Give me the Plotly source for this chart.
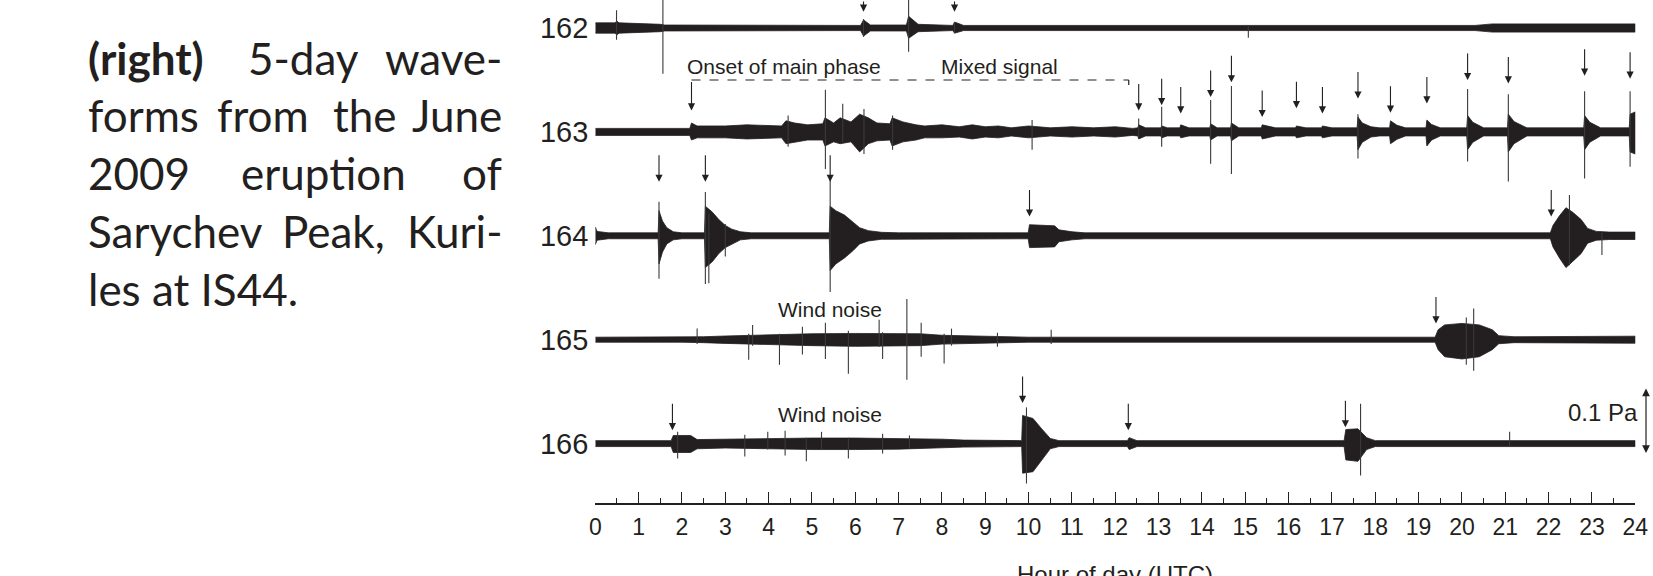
import plotly.graph_objects as go

# ---------------- data (amplitudes in mPa, time in hour of day UTC) ----------------
days = ["162", "163", "164", "165", "166"]
hour_ticks = list(range(0, 25))

env162_t = [0, 0.45, 0.5, 0.55, 1.5, 1.6, 6.12, 6.19, 6.35, 7.18, 7.23, 7.45, 8.25, 8.29, 8.5, 20.3, 20.7, 24]
env162_up = [7.8, 7.8, 10.1, 7.8, 5.6, 4.5, 3.9, 12.3, 4.5, 4.5, 17.9, 5.6, 3.9, 9, 3.9, 3.9, 6.2, 6.2]
env162_dn = [7.8, 7.8, 10.1, 7.8, 5.6, 4.5, 3.9, 12.3, 4.5, 4.5, 15.7, 5.6, 3.9, 7.8, 3.9, 3.9, 6.2, 6.2]

env163_t = [0, 2.18, 2.22, 2.35, 3.0, 3.5, 4.3, 4.4, 4.6, 4.9, 5.25, 5.3, 5.5, 5.65, 5.9, 6.1, 6.3, 6.5, 6.8, 6.85,
            7.1, 7.4, 7.6, 8.0, 8.4, 8.7, 9.0, 9.3, 9.6, 10.0, 10.5, 11.0, 11.5, 12.0, 12.4,
            12.52, 12.54, 12.7, 13.05, 13.07, 13.2, 13.49, 13.51, 13.7, 14.18, 14.2, 14.35, 14.66, 14.68, 14.85,
            15.37, 15.39, 15.7, 16.16, 16.18, 16.4, 16.76, 16.78, 17.0, 17.58, 17.6, 17.7, 17.9, 18.1,
            18.33, 18.35, 18.5, 18.7, 19.17, 19.19, 19.3, 19.5,
            20.11, 20.13, 20.25, 20.5, 21.05, 21.07, 21.2, 21.5, 22.81, 22.83, 22.95, 23.2, 23.86, 23.88, 24]
env163_up = [5.3, 5.3, 13.5, 9, 9, 10.7, 9, 16.8, 13.5, 10.7, 12.3, 21.3, 13.5, 21.3, 15.1, 26.9, 21.3, 13.5, 12.3, 21.3,
             15.1, 10.7, 9, 10.7, 7.8, 10.7, 7.8, 9, 6.2, 9, 6.2, 7.8, 6.2, 7.8, 5.3,
             6.1, 10.7, 6.1, 6.1, 9, 6.1, 6.1, 10.7, 6.1, 6.1, 12.3, 6.1, 6.1, 13.5, 6.1,
             6.1, 10.7, 6.1, 6.1, 9, 6.1, 6.1, 9, 6.1, 6.1, 22.4, 13.5, 7.8, 6.1,
             6.1, 16.8, 10.1, 6.1, 6.1, 17.9, 11.2, 6.1,
             6.1, 24.7, 14.6, 6.1, 6.1, 26.9, 15.7, 6.1, 6.1, 24.7, 14.6, 6.1, 6.1, 26.9, 30.3]
env163_dn = [5.3, 5.3, 12.3, 9, 9, 10.7, 9, 17.9, 15.1, 12.3, 12.3, 21.3, 15.1, 17.9, 15.1, 30.3, 17.9, 13.5, 12.3, 21.3,
             15.1, 12.3, 9, 9, 7.8, 10.7, 7.8, 9, 6.2, 9, 6.2, 7.8, 6.2, 7.8, 5.3,
             6.1, 10.7, 6.1, 6.1, 9, 6.1, 6.1, 9, 6.1, 6.1, 12.3, 6.1, 6.1, 13.5, 6.1,
             6.1, 10.7, 6.1, 6.1, 9, 6.1, 6.1, 9, 6.1, 6.1, 26.9, 15.7, 7.8, 6.1,
             6.1, 17.9, 11.2, 6.1, 6.1, 21.3, 12.3, 6.1,
             6.1, 26.9, 15.7, 6.1, 6.1, 30.3, 17.9, 6.1, 6.1, 26.9, 15.7, 6.1, 6.1, 30.3, 33.6]

env164_t = [0, 0.04, 0.3, 1.45, 1.47, 1.55, 1.65, 1.8, 2.0, 2.52, 2.54, 2.7, 2.85, 3.0, 3.15, 3.35, 3.6,
            5.40, 5.42, 5.55, 5.75, 5.95, 6.1, 6.3, 6.6, 7.0, 9.99, 10.02, 10.6, 10.7, 11.0, 11.3,
            22.04, 22.1, 22.25, 22.4, 22.55, 22.75, 22.9, 23.1, 23.4, 24]
env164_up = [13.5, 6.7, 4.5, 4.5, 38.1, 22.4, 12.3, 6.1, 4.5, 4.5, 44.8, 35.9, 24.7, 15.7, 10.1, 6.1, 4.5,
             4.5, 44.8, 38.1, 31.4, 21.3, 12.3, 7.8, 5.3, 4.5, 4.5, 16.8, 15.1, 9, 6.1, 4.5,
             4.5, 15.7, 30.3, 42.6, 35.9, 24.7, 11.2, 6.7, 5.6, 5.6]
env164_dn = [13.5, 6.7, 4.5, 4.5, 42.6, 24.7, 12.3, 6.1, 4.5, 4.5, 48.2, 39.2, 26.9, 17.9, 12.3, 6.1, 4.5,
             4.5, 52.7, 42.6, 33.6, 22.4, 12.3, 7.8, 5.3, 4.5, 4.5, 17.9, 16.8, 9, 6.1, 4.5,
             4.5, 16.8, 33.6, 48.2, 39.2, 26.9, 11.2, 6.7, 5.6, 5.6]

env165_t = [0, 2.0, 2.5, 3.0, 4.0, 5.0, 6.0, 7.0, 7.5, 8.0, 8.8, 9.4, 10.0,
            19.38, 19.45, 19.6, 20.0, 20.4, 20.7, 20.85, 21.2, 24]
env165_up = [3.8, 3.8, 4.5, 5.6, 7.8, 9, 9.5, 9.5, 9, 6.7, 5.6, 4.5, 3.8, 3.8, 15.1, 22.4, 24.7, 22.4, 15.1, 6.1, 4.5, 5.3]
env165_dn = [3.8, 3.8, 4.5, 5.6, 7.8, 9, 10.1, 9.5, 9, 6.7, 5.6, 4.5, 3.8, 3.8, 15.1, 25.8, 29.2, 25.8, 15.1, 6.1, 4.5, 5.3]

env166_t = [0, 1.75, 1.8, 2.2, 2.35, 3.0, 4.0, 5.0, 6.0, 7.0, 8.0, 8.5, 9.84, 9.86, 10.1, 10.3, 10.5, 10.7,
            12.28, 12.32, 12.5, 17.28, 17.32, 17.6, 17.8, 18.0, 24]
env166_up = [4.5, 4.5, 12.3, 12.3, 6.1, 6.7, 7.8, 8.4, 8.4, 7.8, 6.7, 5.3, 4.5, 42.6, 38.1, 22.4, 7.8, 4.5,
             4.5, 9, 4.5, 4.5, 21.3, 22.4, 9, 4.5, 4.5]
env166_dn = [4.5, 4.5, 13.5, 13.5, 7.8, 6.7, 7.8, 9, 9, 8.4, 6.7, 5.3, 4.5, 44.8, 42.6, 24.7, 7.8, 4.5,
             4.5, 9, 4.5, 4.5, 24.7, 26.9, 9, 4.5, 4.5]

# isolated spikes (hour, peak above baseline, trough below baseline), mPa
spk162_t = [0.49, 1.56, 6.19, 7.23, 8.29, 15.07]
spk162_up = [26.9, 56.1, 13.5, 50.5, 9, 4.5]
spk162_dn = [17.9, 69.5, 13.5, 35.9, 7.8, 14.6]

spk163_t = [4.45, 5.31, 5.71, 6.2, 6.86, 10.08, 12.54, 13.07, 14.2, 14.68, 17.6, 20.13, 21.07, 22.83, 23.88]
spk163_up = [24.7, 63.9, 42.6, 34.8, 24.7, 17.9, 20.2, 38.1, 48.2, 69.5, 26.9, 65, 57.2, 61.7, 61.7]
spk163_dn = [22.4, 56.1, 15.7, 33.6, 26.9, 26.9, 7.8, 22.4, 48.2, 63.9, 40.4, 44.8, 75.1, 70.6, 52.7]

spk164_t = [1.47, 2.54, 2.62, 3.0, 5.42, 22.48, 23.23]
spk164_up = [51.6, 66.2, 33.6, 17.9, 90.8, 61.7, 4.5]
spk164_dn = [65, 72.9, 71.8, 31.4, 85.2, 44.8, 29.2]

spk165_t = [2.35, 3.54, 3.63, 4.25, 4.78, 5.31, 5.84, 6.55, 6.63, 7.19, 7.52, 8.05, 8.22, 9.28, 10.52, 20.1, 20.27]
spk165_up = [16.8, 9, 22.4, 9, 19.6, 25.8, 13.5, 30.3, 11.2, 61.7, 25.8, 9, 16.8, 10.7, 15.1, 33.6, 47.1]
spk165_dn = [6.7, 30.3, 9, 38.1, 22.4, 29.2, 51.6, 11.2, 29.2, 60.5, 25.8, 35.9, 9, 10.7, 6.7, 38.1, 47.1]

spk166_t = [1.9, 3.45, 3.98, 4.38, 4.87, 5.22, 5.84, 6.63, 7.25, 9.95, 17.66, 21.1]
spk166_up = [17.9, 13.5, 17.9, 19.6, 9, 17.9, 9, 15.1, 12.3, 54.9, 60.5, 17.9]
spk166_dn = [22.4, 19.6, 9, 17.9, 26.9, 9, 22.4, 15.1, 6.7, 60.5, 48.2, 4.5]

# event arrows (hour, height of arrow tip above the trace baseline, mPa)
arr162_t = [6.19, 8.29]
arr162_tip = [24.7, 24.7]
arr163_t = [2.22, 12.54, 13.07, 13.51, 14.20, 14.68, 15.39, 16.18, 16.78, 17.60, 18.35, 19.19, 20.13, 21.07, 22.83, 23.88]
arr163_tip = [32.5, 32.5, 40.4, 28, 52.7, 75.1, 22.4, 35.9, 28, 50.5, 29.2, 43.2, 78.5, 73.4, 85.2, 80.7]
arr164_t = [1.47, 2.54, 5.42, 10.02, 22.06]
arr164_tip = [81.8, 81.8, 81.8, 29.2, 29.2]
arr165_t = [19.40]
arr165_tip = [24.7]
arr166_t = [1.78, 9.86, 12.30, 17.31]
arr166_tip = [20.2, 61.7, 20.2, 24.7]

main_phase_span = [2.22, 12.31]   # dashed bracket "Onset of main phase ... Mixed signal"
scale_bar_mpa = 100               # 0.1 Pa

# ---------------- layout constants ----------------
W, H = 1653, 576
INK = "#231f20"
PX_PER_MPA = 0.66
AXIS_PX = 503.0
Y_TOP = 28.0 / PX_PER_MPA
Y_BOT = Y_TOP - AXIS_PX / PX_PER_MPA
DAY_SPACING = 103.9 / PX_PER_MPA
X0_PX, X1_PX = 595.3, 1635.3


def ydat(py_):
    return Y_TOP - py_ / PX_PER_MPA


def px(x):
    return x / W


def py(y):
    return 1 - y / H


envs = [(env162_t, env162_up, env162_dn), (env163_t, env163_up, env163_dn),
        (env164_t, env164_up, env164_dn), (env165_t, env165_up, env165_dn),
        (env166_t, env166_up, env166_dn)]
spks = [(spk162_t, spk162_up, spk162_dn), (spk163_t, spk163_up, spk163_dn),
        (spk164_t, spk164_up, spk164_dn), (spk165_t, spk165_up, spk165_dn),
        (spk166_t, spk166_up, spk166_dn)]
arrs = [(arr162_t, arr162_tip), (arr163_t, arr163_tip), (arr164_t, arr164_tip),
        (arr165_t, arr165_tip), (arr166_t, arr166_tip)]
baselines = [-i * DAY_SPACING for i in range(len(days))]

fig = go.Figure()

for i, (t, up, dn) in enumerate(envs):
    b = baselines[i]
    xs = list(t) + list(t)[::-1]
    ys = [b + u for u in up] + [b - d for d in dn][::-1]
    fig.add_trace(go.Scatter(x=xs, y=ys, mode="lines", fill="toself", fillcolor=INK,
                             line=dict(color=INK, width=0.8), hoverinfo="skip", showlegend=False))

sx, sy = [], []
for i, (t, up, dn) in enumerate(spks):
    b = baselines[i]
    for h, u, d in zip(t, up, dn):
        sx += [h, h, None]
        sy += [b + u, b - d, None]
fig.add_trace(go.Scatter(x=sx, y=sy, mode="lines", line=dict(color="#3a3a3a", width=1.1),
                         hoverinfo="skip", showlegend=False))

annotations = []
for i, (t, tip) in enumerate(arrs):
    b = baselines[i]
    for h, tp in zip(t, tip):
        tail = 30 if (i == 1 and h == main_phase_span[0]) else 28
        annotations.append(dict(x=h, y=b + tp, xref="x", yref="y", ax=0, ay=-tail,
                                text="", showarrow=True, arrowhead=2, arrowsize=1.3,
                                arrowwidth=1.1, arrowcolor=INK, standoff=0))

# dashed bracket
shapes = [
    dict(type="line", xref="x", yref="y", x0=main_phase_span[0], x1=main_phase_span[1],
         y0=ydat(80), y1=ydat(80), line=dict(color=INK, width=1.2, dash="dash")),
    dict(type="line", xref="x", yref="y", x0=main_phase_span[1], x1=main_phase_span[1],
         y0=ydat(80), y1=ydat(85), line=dict(color=INK, width=1.2)),
]

lab_font = dict(family="Liberation Sans, Arial, sans-serif", size=21, color=INK)
annotations += [
    dict(x=px(784), y=py(66), xref="paper", yref="paper", text="Onset of main phase",
         showarrow=False, font=lab_font, xanchor="center", yanchor="middle"),
    dict(x=px(999), y=py(66), xref="paper", yref="paper", text="Mixed signal",
         showarrow=False, font=lab_font, xanchor="center", yanchor="middle"),
    dict(x=px(830), y=py(309), xref="paper", yref="paper", text="Wind noise",
         showarrow=False, font=lab_font, xanchor="center", yanchor="middle"),
    dict(x=px(830), y=py(414), xref="paper", yref="paper", text="Wind noise",
         showarrow=False, font=lab_font, xanchor="center", yanchor="middle"),
    dict(x=px(1640), y=py(412), xref="paper", yref="paper", text="0.1 Pa",
         showarrow=False, font=dict(family="Liberation Sans, Arial, sans-serif", size=24, color=INK),
         xanchor="right", yanchor="middle"),
    dict(x=px(1115), y=py(559), xref="paper", yref="paper", text="Hour of day (UTC)",
         showarrow=False, font=dict(family="Liberation Sans, Arial, sans-serif", size=24, color=INK),
         xanchor="center", yanchor="top"),
]
# scale bar (double-headed arrow, 0.1 Pa)
sb_bottom = ydat(453)
annotations.append(dict(x=px(1646), y=sb_bottom, xref="paper", yref="y",
                        ax=0, ay=sb_bottom + scale_bar_mpa, axref="pixel", ayref="y",
                        text="", showarrow=True, arrowhead=2, startarrowhead=2, arrowside="end+start",
                        arrowsize=1.3, startarrowsize=1.3, arrowwidth=1.2, arrowcolor=INK, standoff=0,
                        startstandoff=0))

# caption paragraph (justified, word by word)
cap_font = dict(family="Lato, Open Sans, sans-serif", size=44, color=INK)
LX, RX = 85.5, 503.5
cap_lines = [
    (75, [("<b>(right)</b>", LX, "left"), ("5-day", 303.4, "center"), ("wave-", RX, "right")]),
    (132, [("forms", LX, "left"), ("from", 262.8, "center"), ("the", 364.8, "center"), ("June", RX, "right")]),
    (189.5, [("2009", LX, "left"), ("eruption", 323.4, "center"), ("of", RX, "right")]),
    (247.5, [("Sarychev", LX, "left"), ("Peak,", 333.3, "center"), ("Kuri-", RX, "right")]),
    (305.5, [("les at IS44.", LX, "left")]),
]
for base, words in cap_lines:
    for txt, xx, anc in words:
        annotations.append(dict(x=px(xx), y=py(base - 17), xref="paper", yref="paper", text=txt,
                                showarrow=False, font=cap_font, xanchor=anc, yanchor="middle"))

fig.update_layout(
    width=W, height=H, autosize=False,
    margin=dict(l=0, r=0, t=0, b=0, pad=0),
    paper_bgcolor="white", plot_bgcolor="white",
    showlegend=False,
    annotations=annotations, shapes=shapes,
    xaxis=dict(domain=[px(X0_PX), px(X1_PX)], range=[0, 24], tickmode="array",
               tickvals=hour_ticks, ticktext=[str(h) for h in hour_ticks],
               ticks="inside", ticklen=11, tickwidth=1.3, tickcolor=INK,
               minor=dict(dtick=0.5, tick0=0, ticks="inside", ticklen=5.5, tickwidth=1.2, tickcolor=INK,
                          showgrid=False),
               showline=True, linewidth=2, linecolor=INK, showgrid=False, zeroline=False,
               tickfont=dict(family="Liberation Sans, Arial, sans-serif", size=23, color=INK),
               ticklabelstandoff=2, fixedrange=True, automargin=False),
    yaxis=dict(domain=[(H - AXIS_PX) / H, 1], range=[Y_BOT, Y_TOP], tickmode="array",
               tickvals=baselines, ticktext=days, ticks="", showline=False, showgrid=False,
               zeroline=False, tickfont=dict(family="Liberation Sans, Arial, sans-serif", size=29, color=INK),
               ticklabelstandoff=6, fixedrange=True, automargin=False),
)

fig.write_html("out.html", include_plotlyjs=True,
               config={"displayModeBar": False, "responsive": False},
               post_script="document.body.style.margin='0px';document.body.style.overflow='hidden';")
